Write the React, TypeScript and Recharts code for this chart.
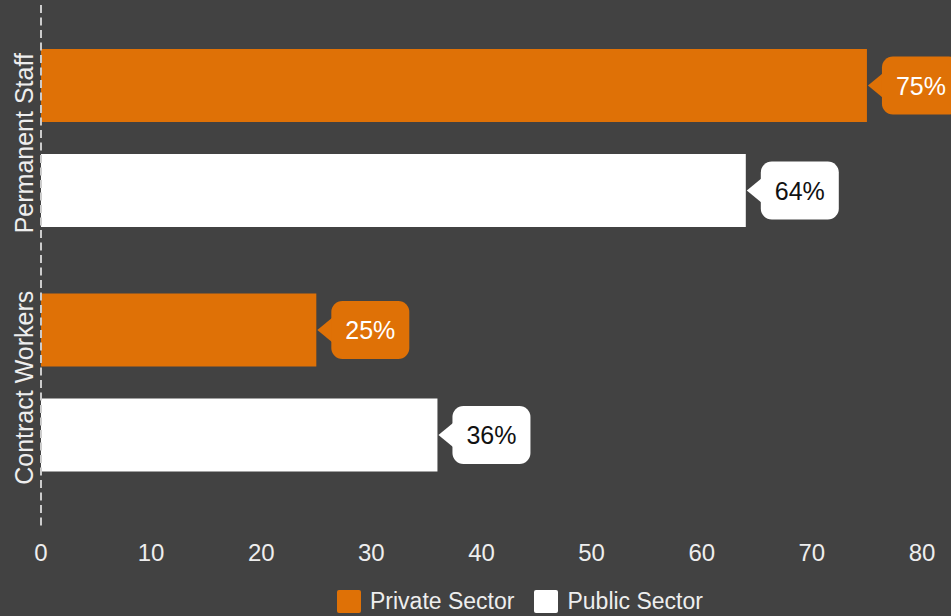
import React from 'react';
import { BarChart, Bar, XAxis, YAxis, LabelList } from 'recharts';

const categories = ['Permanent Staff', 'Contract Workers'];
const privateSector = [75, 25];
const publicSector = [64, 36];
const xTicks = [0, 10, 20, 30, 40, 50, 60, 70, 80];
const seriesNames = ['Private Sector', 'Public Sector'];
const seriesKeys = ['private', 'public'];
const seriesColors = ['#DF7106', '#FFFFFF'];
const labelTextColors = ['#FFFFFF', '#111111'];

const data = categories.map((c, i) => ({
  category: c,
  private: privateSector[i],
  public: publicSector[i],
}));

const FONT = '"Liberation Sans", Arial, Helvetica, sans-serif';
const BG = '#424242';
const TEXT = '#EEEEEE';

const CategoryTick = (props: any) => {
  const { y, payload } = props;
  return (
    <text
      x={0}
      y={0}
      transform={`translate(33, ${y + 5}) rotate(-90)`}
      textAnchor="middle"
      fill={TEXT}
      fontSize={25}
      fontFamily={FONT}
    >
      {payload.value}
    </text>
  );
};

const makeLabel = (fill: string, textColor: string) => (props: any) => {
  const { x, y, width, height, value } = props;
  const tipX = Number(x) + Number(width) + 1;
  const cy = Number(y) + Number(height) / 2;
  const bx = tipX + 14;
  const bw = 78;
  const bh = 58;
  return (
    <g>
      <polygon points={`${tipX},${cy} ${bx + 3},${cy - 14} ${bx + 3},${cy + 14}`} fill={fill} />
      <rect x={bx} y={cy - bh / 2} width={bw} height={bh} rx={11} ry={11} fill={fill} />
      <text
        x={bx + bw / 2}
        y={cy + 9}
        textAnchor="middle"
        fill={textColor}
        fontSize={25}
        fontFamily={FONT}
      >
        {`${value}%`}
      </text>
    </g>
  );
};

export default function App() {
  return (
    <div
      style={{
        position: 'absolute',
        left: 0,
        top: 0,
        width: 951,
        height: 616,
        background: BG,
        overflow: 'hidden',
        fontFamily: FONT,
      }}
    >
      <BarChart
        width={951}
        height={616}
        data={data}
        layout="vertical"
        margin={{ top: 5, right: 29, bottom: 0, left: 0 }}
        barSize={73}
        barGap={32}
      >
        <XAxis
          type="number"
          domain={[0, 80]}
          ticks={xTicks}
          interval={0}
          height={89}
          axisLine={false}
          tickLine={false}
          tickMargin={11}
          tick={{ fill: TEXT, fontSize: 24, fontFamily: FONT }}
        />
        <YAxis
          type="category"
          dataKey="category"
          width={41}
          padding={{ top: 11, bottom: 22 }}
          axisLine={{ stroke: '#CCCCCC', strokeWidth: 2, strokeDasharray: '8 4.5' }}
          tickLine={false}
          tick={<CategoryTick />}
        />
        {seriesKeys.map((k, i) => (
          <Bar key={k} dataKey={k} name={seriesNames[i]} fill={seriesColors[i]} isAnimationActive={false}>
            <LabelList dataKey={k} content={makeLabel(seriesColors[i], labelTextColors[i])} />
          </Bar>
        ))}
      </BarChart>
      <div
        style={{
          position: 'absolute',
          left: 337,
          top: 590,
          height: 23,
          display: 'flex',
          alignItems: 'center',
          color: TEXT,
          fontSize: 23,
          lineHeight: '23px',
          whiteSpace: 'nowrap',
        }}
      >
        {seriesNames.map((n, i) => (
          <div key={n} style={{ display: 'flex', alignItems: 'center', marginRight: 20 }}>
            <div
              style={{
                width: 24,
                height: 23,
                borderRadius: 2,
                background: seriesColors[i],
                marginRight: 9,
              }}
            />
            <span>{n}</span>
          </div>
        ))}
      </div>
    </div>
  );
}
